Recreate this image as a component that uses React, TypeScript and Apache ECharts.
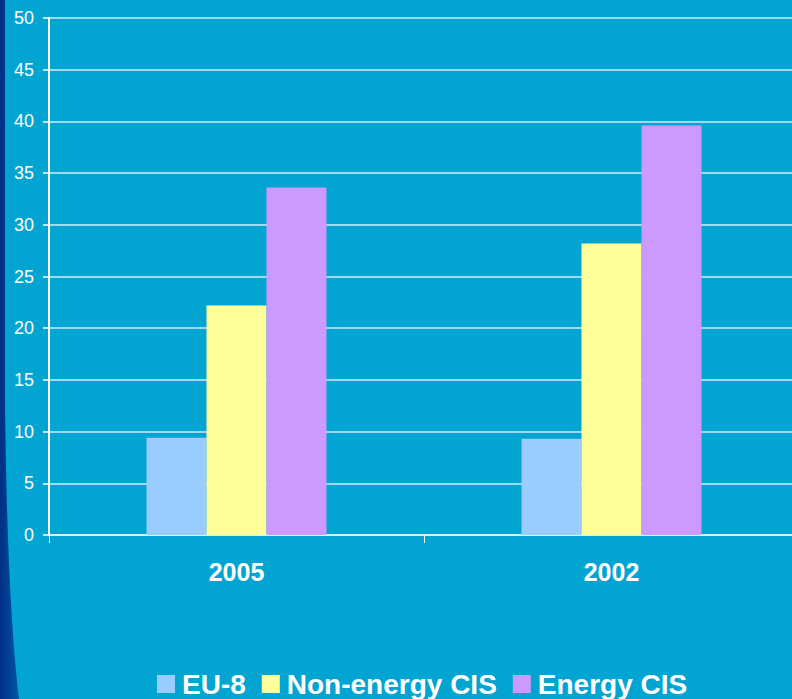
import React, { useEffect, useRef } from "react";
import * as echarts from "echarts";

const categories = ["2005", "2002"];
const seriesNames = ["EU-8", "Non-energy CIS", "Energy CIS"];
const eu8 = [9.4, 9.3];
const nonEnergyCIS = [22.2, 28.2];
const energyCIS = [33.6, 39.6];
const yTicks = { min: 0, max: 50, interval: 5 };

const colors = ["#99CCFF", "#FFFF99", "#CC99FF"];

echarts.graphic.registerShape(
  "edgeShape",
  echarts.graphic.extendPath("M0,0 L5,0 L5,400 Q7,600 19,699 L0,699 Z", {}) as any
);

export default function App() {
  const ref = useRef<HTMLDivElement>(null);
  useEffect(() => {
    if (!ref.current) return;
    const chart = echarts.init(ref.current, null, { renderer: "svg" });
    const font = "'Liberation Sans', Arial, sans-serif";
    chart.setOption({
      animation: false,
      backgroundColor: "#02A4D2",
      textStyle: { fontFamily: font },
      graphic: [
        {
          type: "edgeShape",
          x: 0,
          y: 0,
          z: -10,
          style: {
            fill: new echarts.graphic.LinearGradient(0, 0, 1, 0, [
              { offset: 0, color: "#002F86" },
              { offset: 1, color: "#0058A8" },
            ]),
          },
        } as any,
      ],
      grid: {
        left: 49,
        width: 750,
        top: 18,
        bottom: 164,
        containLabel: false,
        outerBoundsMode: "none",
      },
      legend: {
        data: seriesNames,
        top: 670,
        left: 157,
        padding: 0,
        itemWidth: 18,
        itemHeight: 18,
        itemGap: 16,
        icon: "rect",
        textStyle: {
          color: "#FFFFFF",
          fontSize: 28,
          lineHeight: 28,
          fontWeight: "bold",
          fontFamily: font,
          padding: [0, 0, 0, 2],
        },
      },
      xAxis: {
        type: "category",
        data: categories,
        axisLine: { lineStyle: { color: "#D8F2FA", width: 2 } },
        axisTick: { show: true, length: 8, lineStyle: { color: "#FFFFFF", width: 1 } },
        axisLabel: {
          color: "#FFFFFF",
          fontSize: 25,
          fontWeight: "bold",
          fontFamily: font,
          margin: 24,
        },
      },
      yAxis: {
        type: "value",
        min: yTicks.min,
        max: yTicks.max,
        interval: yTicks.interval,
        axisLine: { show: true, lineStyle: { color: "#FFFFFF", width: 2 } },
        axisTick: { show: true, length: 6, lineStyle: { color: "#FFFFFF", width: 1.5 } },
        axisLabel: { color: "#FFFFFF", fontSize: 18, fontFamily: font, margin: 15 },
        splitLine: { lineStyle: { color: "#D0EEF8", width: 1.5 } },
      },
      series: [
        { name: seriesNames[0], type: "bar", data: eu8, barWidth: 60, barGap: "0%", itemStyle: { color: colors[0] } },
        { name: seriesNames[1], type: "bar", data: nonEnergyCIS, barWidth: 60, barGap: "0%", itemStyle: { color: colors[1] } },
        { name: seriesNames[2], type: "bar", data: energyCIS, barWidth: 60, barGap: "0%", itemStyle: { color: colors[2] } },
      ],
    });
    return () => chart.dispose();
  }, []);
  return <div ref={ref} style={{ width: 792, height: 699, position: "absolute", left: 0, top: 0 }} />;
}
